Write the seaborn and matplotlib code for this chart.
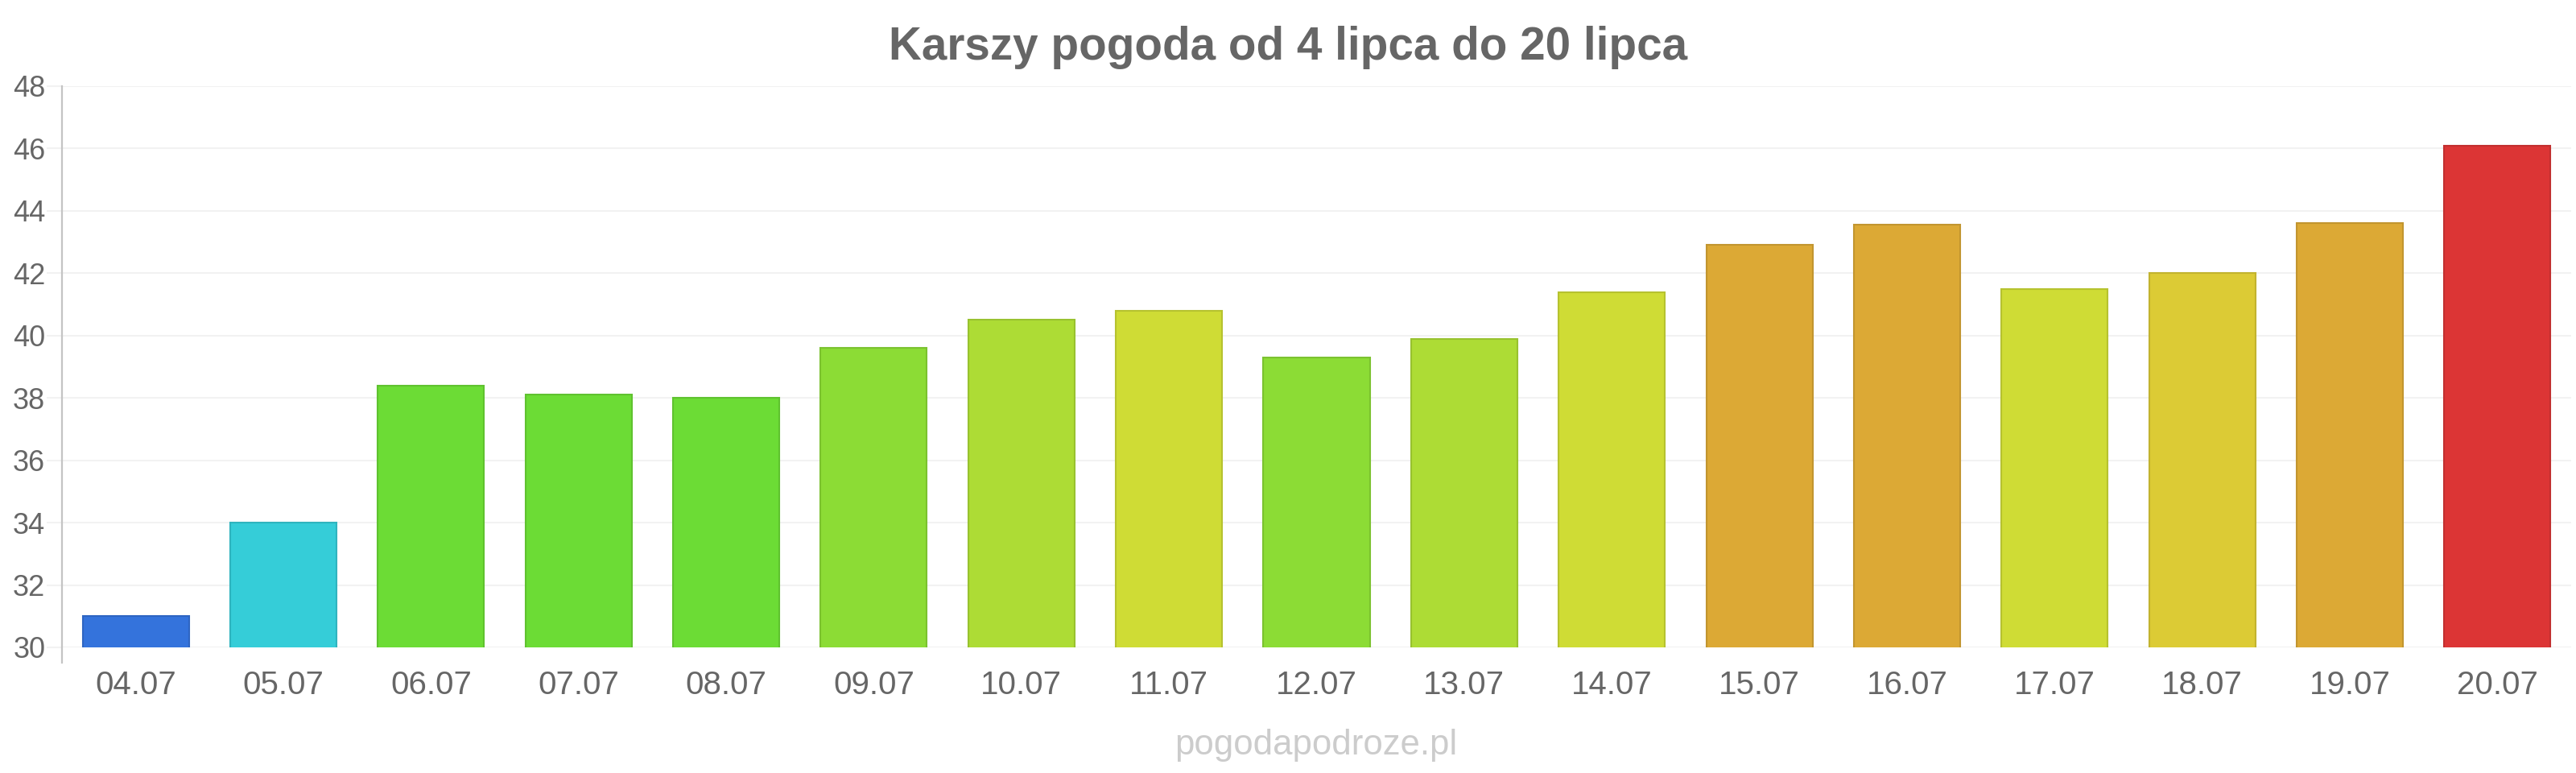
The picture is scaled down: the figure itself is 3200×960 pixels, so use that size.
import matplotlib
matplotlib.use("Agg")
import matplotlib.pyplot as plt
import pandas as pd
import seaborn as sns
from matplotlib.colors import to_rgb

dates = ['04.07', '05.07', '06.07', '07.07', '08.07', '09.07', '10.07', '11.07', '12.07',
         '13.07', '14.07', '15.07', '16.07', '17.07', '18.07', '19.07', '20.07']
temps = [31.0, 34.0, 38.4, 38.1, 38.0, 39.6, 40.5, 40.8, 39.3,
         39.9, 41.4, 42.9, 43.55, 41.5, 42.0, 43.6, 46.1]
colors = ['#3473dc', '#35cdd8', '#6cdc35', '#6cdc35', '#6cdc35', '#8cdc35', '#addc35', '#cfdc35', '#8cdc35',
          '#addc35', '#cfdc35', '#dca935', '#dca935', '#cfdc35', '#dccb35', '#dca935', '#dc3535']
title = 'Karszy pogoda od 4 lipca do 20 lipca'
yticks = list(range(30, 49, 2))

sns.set_theme(style='white')
plt.rcParams['font.family'] = ['Liberation Sans', 'DejaVu Sans']

df = pd.DataFrame({'data': dates, 'temp': temps})

W, H = 3200, 960
fig = plt.figure(figsize=(32, 9.6), dpi=100)
ax = fig.add_axes([77 / W, 1 - 804 / H, (3194 - 77) / W, (804 - 107) / H])

sns.barplot(data=df, x='data', y='temp', hue='data', palette=colors, legend=False,
            width=0.72, saturation=1, ax=ax, zorder=3)

# darker outline like the original
for patch, c in zip(ax.patches, colors):
    r, g, b = to_rgb(c)
    patch.set_edgecolor((r * 0.88, g * 0.88, b * 0.88))
    patch.set_linewidth(1.5)

ax.set_ylim(30, 48)
ax.set_xlim(-0.5, len(dates) - 0.5)
ax.set_yticks(yticks)
ax.set_xlabel('')
ax.set_ylabel('')

grid_c = '#f2f2f2'
ax.yaxis.grid(True, color=grid_c, linewidth=1.5, zorder=0)
ax.xaxis.grid(False)
ax.set_axisbelow(True)

for side in ['top', 'right', 'bottom']:
    ax.spines[side].set_visible(False)
ax.spines['left'].set_color('#c4c4c4')
ax.spines['left'].set_linewidth(1.6)
ax.spines['left'].set_bounds(29.5, 48)

ax.tick_params(axis='y', length=14, width=1.5, color=grid_c, pad=1,
               labelsize=26, labelcolor='#666666', left=True)
ax.tick_params(axis='x', length=0, pad=20, labelsize=29, labelcolor='#666666')

fig.text(0.5, 1 - 74 / H, title, ha='center', va='baseline', fontsize=40.8,
         fontweight='bold', color='#666666')
fig.text(1635 / W, 1 - 937 / H, 'pogodapodroze.pl', ha='center', va='baseline',
         fontsize=31.5, color='#cccccc')

fig.savefig('out.png', dpi=100, facecolor='white')
